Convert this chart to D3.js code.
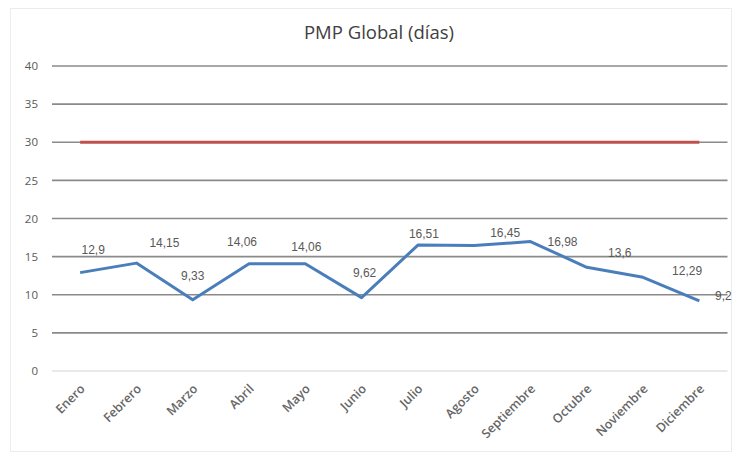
<!DOCTYPE html>
<html><head><meta charset="utf-8">
<script src="https://cdn.jsdelivr.net/npm/d3@7"></script>
<style>body{margin:0;background:#fff}</style>
</head><body>
<script>
const months = ["Enero","Febrero","Marzo","Abril","Mayo","Junio","Julio","Agosto","Septiembre","Octubre","Noviembre","Diciembre"];
const pmp = [12.9,14.15,9.33,14.06,14.06,9.62,16.51,16.45,16.98,13.6,12.29,9.2];
const pmpLabels = ["12,9","14,15","9,33","14,06","14,06","9,62","16,51","16,45","16,98","13,6","12,29","9,2"];
const target = [30,30,30,30,30,30,30,30,30,30,30,30];
const yTicks = [0,5,10,15,20,25,30,35,40];
const title = "PMP Global (días)";

// label nudges (dx, dy in px) mimicking the original placement
const labelNudge = [[13,-19],[28,-16],[0,-20],[-7,-18],[1,-13],[3,-21],[6,-7],[31,-9],[32,4],[33,-10],[44,-2],[24,-1]];

const W = 732, H = 452;
const svg = d3.select("body").append("svg").attr("width", W).attr("height", H);
svg.append("rect").attr("x",10.5).attr("y",8.5).attr("width",W-11).attr("height",H-9)
  .attr("fill","#fff").attr("stroke","#ececec");

const x = d3.scaleBand().domain(months).range([52, 727.5]);
const y = d3.scaleLinear().domain([0, 40]).range([371, 66]);

svg.append("text").attr("x", 379).attr("y", 39).attr("text-anchor","middle")
  .attr("font-family","Open Sans").attr("font-size",18.5).attr("fill","#404040").text(title);

// gridlines
svg.append("g").selectAll("line").data(yTicks).join("line")
  .attr("x1", x.range()[0]).attr("x2", x.range()[1])
  .attr("y1", d => y(d)).attr("y2", d => y(d))
  .attr("stroke", d => d === 0 ? "#e2e2e2" : "#8a8a8a").attr("stroke-width", 1.6);

// y axis labels
const yAxis = d3.axisLeft(y).tickValues(yTicks).tickSize(0).tickPadding(0);
const gy = svg.append("g").attr("transform","translate(38,0)").call(yAxis);
gy.select(".domain").remove();
gy.selectAll("text").attr("font-family","Open Sans").attr("font-size",11.5).attr("fill","#595959");

// x axis labels
const xAxis = d3.axisBottom(x).tickSize(0).tickPadding(0);
const gx = svg.append("g").attr("transform","translate(0,383)").call(xAxis);
gx.select(".domain").remove();
gx.selectAll("text").attr("font-family","Open Sans").attr("font-weight",600).attr("font-size",12.5)
  .attr("fill","#666666").attr("text-anchor","end").attr("dy","0.75em")
  .attr("transform","translate(-1,0) rotate(-45)");

const cx = d => x(d) + x.bandwidth()/2;

// target line
svg.append("path").datum(target.map((v,i)=>[months[i],v]))
  .attr("fill","none").attr("stroke","#c0504d").attr("stroke-width",3)
  .attr("d", d3.line().x(d=>cx(d[0])).y(d=>y(d[1])));

// series line
svg.append("path").datum(pmp.map((v,i)=>[months[i],v]))
  .attr("fill","none").attr("stroke","#4a7ebb").attr("stroke-width",3).attr("stroke-linejoin","round")
  .attr("d", d3.line().x(d=>cx(d[0])).y(d=>y(d[1])));

// data labels
svg.append("g").selectAll("text").data(pmp).join("text")
  .attr("x", (d,i) => cx(months[i]) + labelNudge[i][0])
  .attr("y", (d,i) => y(d) + labelNudge[i][1])
  .attr("text-anchor","middle")
  .attr("font-family","Liberation Sans").attr("font-size",12).attr("fill","#595959")
  .text((d,i) => pmpLabels[i]);
</script>
</body></html>
